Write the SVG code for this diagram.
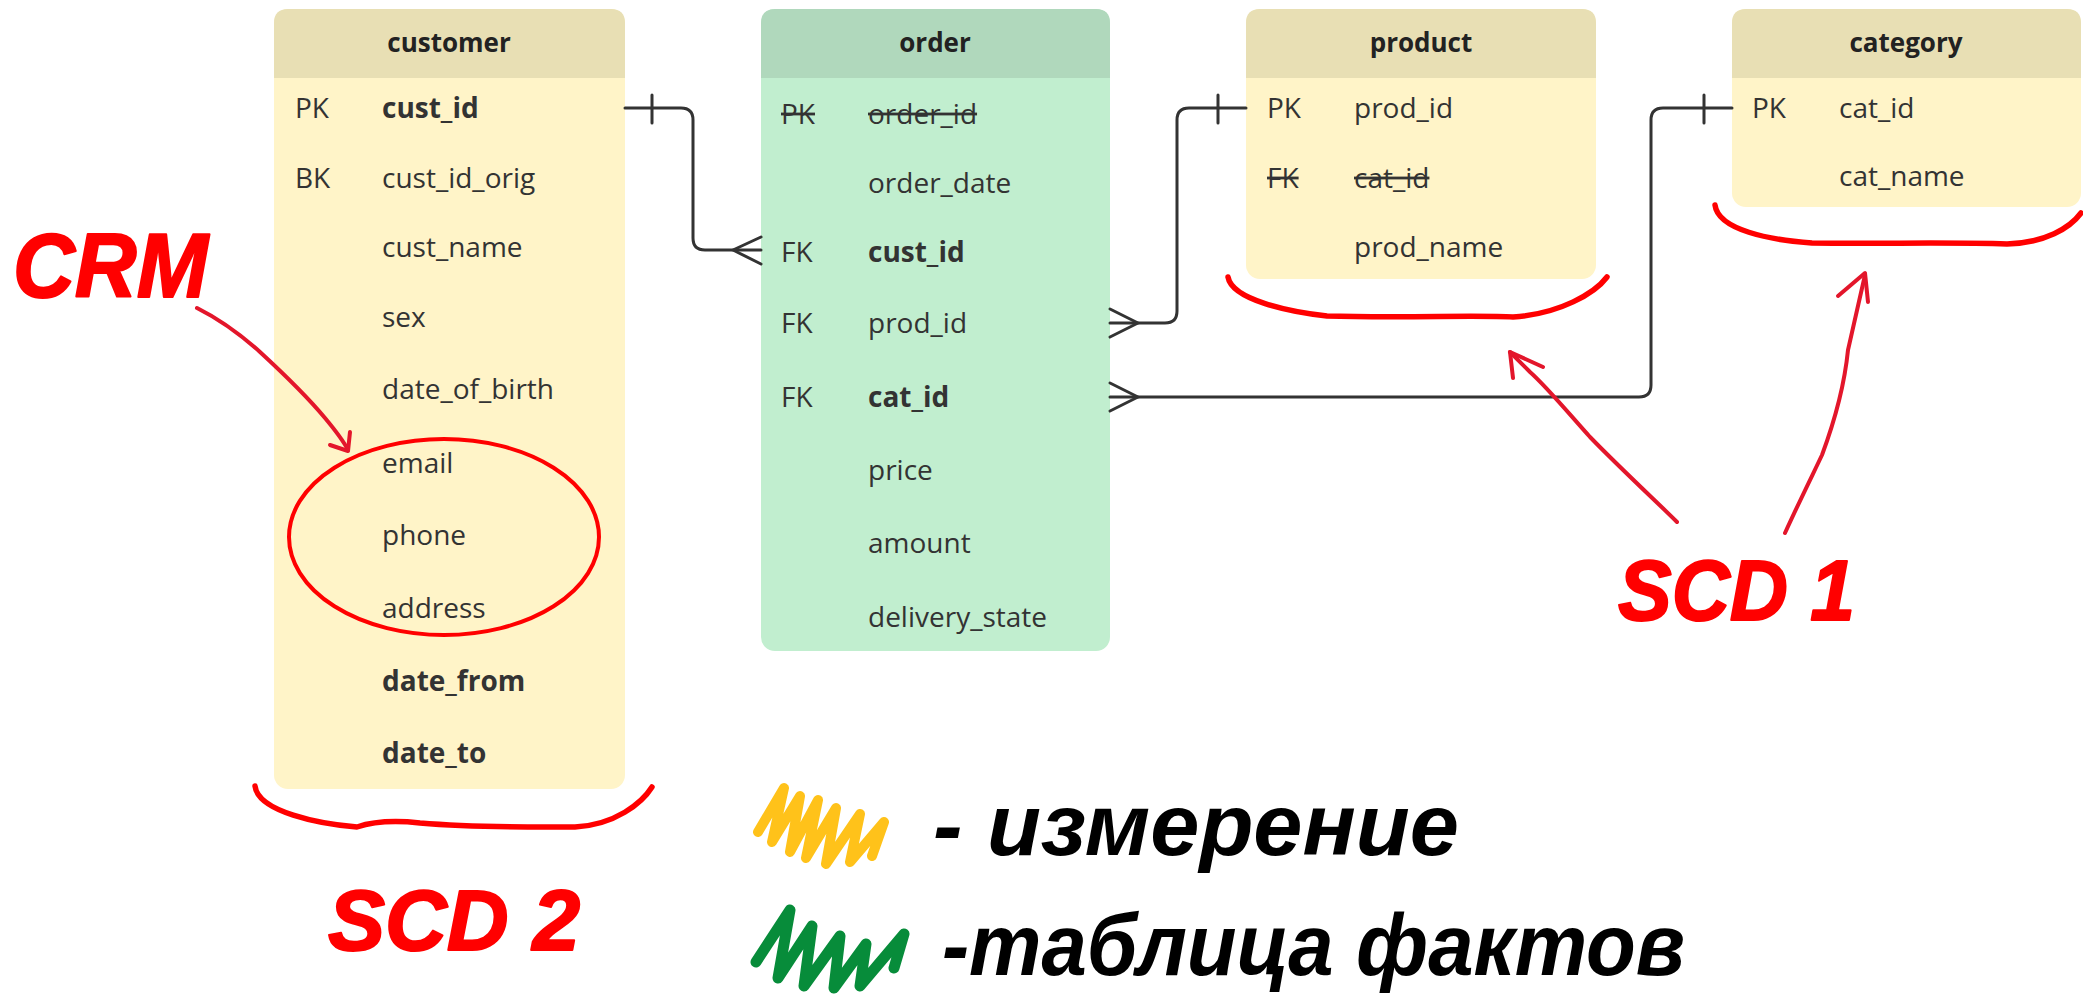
<svg xmlns="http://www.w3.org/2000/svg" width="2083" height="996" viewBox="0 0 2083 996">
  <style>
    .dimBody { fill: #FFF4C8; }
    .dimHead { fill: #E8DFB4; }
    .factBody { fill: #C1EECF; }
    .factHead { fill: #B0D8BC; }
    .t { font-family: "Open Sans", "Noto Sans", sans-serif; font-size: 28px; fill: #333333; }
    .b { font-weight: 700; }
    .s { text-decoration: line-through; }
    .h { font-family: "Open Sans", "Noto Sans", sans-serif; font-size: 26px; font-weight: 700; fill: #222222; text-anchor: middle; }
    .conn { fill: none; stroke: #333333; stroke-width: 3; stroke-linecap: round; stroke-linejoin: round; }
    .mark { fill: none; stroke: #FF0000; stroke-width: 5.5; stroke-linecap: round; stroke-linejoin: round; }
    .arr { fill: none; stroke: #E3162B; stroke-width: 4; stroke-linecap: round; stroke-linejoin: round; }
    .hand { font-family: "Liberation Sans", Arial, sans-serif; font-weight: 700; font-style: italic; }
    .red { fill: #FF0000; stroke: #FF0000; stroke-width: 2; stroke-linejoin: round; }
    .ink { fill: #000000; }
  </style>

  <rect width="2083" height="996" fill="#FFFFFF"/>

  <!-- customer (dimension) -->
  <g id="customer">
    <rect class="dimBody" x="274" y="9" width="351" height="780" rx="14"/>
    <path class="dimHead" d="M274,78 V23 Q274,9 288,9 H611 Q625,9 625,23 V78 Z"/>
    <text class="h" x="449" y="52">customer</text>
    <text class="t" x="295" y="118">PK</text>
    <text class="t b" x="382" y="118">cust_id</text>
    <text class="t" x="295" y="188">BK</text>
    <text class="t" x="382" y="188">cust_id_orig</text>
    <text class="t" x="382" y="257">cust_name</text>
    <text class="t" x="382" y="327">sex</text>
    <text class="t" x="382" y="399">date_of_birth</text>
    <text class="t" x="382" y="473">email</text>
    <text class="t" x="382" y="545">phone</text>
    <text class="t" x="382" y="618">address</text>
    <text class="t b" x="382" y="691">date_from</text>
    <text class="t b" x="382" y="763">date_to</text>
  </g>

  <!-- order (fact) -->
  <g id="order">
    <rect class="factBody" x="761" y="9" width="349" height="642" rx="14"/>
    <path class="factHead" d="M761,78 V23 Q761,9 775,9 H1096 Q1110,9 1110,23 V78 Z"/>
    <text class="h" x="935" y="52">order</text>
    <text class="t s" x="781" y="124">PK</text>
    <text class="t s" x="868" y="124">order_id</text>
    <text class="t" x="868" y="193">order_date</text>
    <text class="t" x="781" y="262">FK</text>
    <text class="t b" x="868" y="262">cust_id</text>
    <text class="t" x="781" y="333">FK</text>
    <text class="t" x="868" y="333">prod_id</text>
    <text class="t" x="781" y="407">FK</text>
    <text class="t b" x="868" y="407">cat_id</text>
    <text class="t" x="868" y="480">price</text>
    <text class="t" x="868" y="553">amount</text>
    <text class="t" x="868" y="627">delivery_state</text>
  </g>

  <!-- product (dimension) -->
  <g id="product">
    <rect class="dimBody" x="1246" y="9" width="350" height="270" rx="14"/>
    <path class="dimHead" d="M1246,78 V23 Q1246,9 1260,9 H1582 Q1596,9 1596,23 V78 Z"/>
    <text class="h" x="1421" y="52">product</text>
    <text class="t" x="1267" y="118">PK</text>
    <text class="t" x="1354" y="118">prod_id</text>
    <text class="t s" x="1267" y="188">FK</text>
    <text class="t s" x="1354" y="188">cat_id</text>
    <text class="t" x="1354" y="257">prod_name</text>
  </g>

  <!-- category (dimension) -->
  <g id="category">
    <rect class="dimBody" x="1732" y="9" width="349" height="198" rx="14"/>
    <path class="dimHead" d="M1732,78 V23 Q1732,9 1746,9 H2067 Q2081,9 2081,23 V78 Z"/>
    <text class="h" x="1906" y="52">category</text>
    <text class="t" x="1752" y="118">PK</text>
    <text class="t" x="1839" y="118">cat_id</text>
    <text class="t" x="1839" y="186">cat_name</text>
  </g>

  <!-- relationships: one (bar) to many (crow's foot) -->
  <g id="connectors">
    <path class="conn" d="M625,108 H681 Q693,108 693,120 V238 Q693,250 705,250 H761"/>
    <path class="conn" d="M652,95 V123"/>
    <path class="conn" d="M761,237 L733,250 L761,264"/>

    <path class="conn" d="M1246,108 H1189 Q1177,108 1177,120 V311 Q1177,323 1165,323 H1110"/>
    <path class="conn" d="M1218,95 V123"/>
    <path class="conn" d="M1110,309 L1138,323 L1110,337"/>

    <path class="conn" d="M1732,108 H1663 Q1651,108 1651,120 V385 Q1651,397 1639,397 H1110"/>
    <path class="conn" d="M1704,95 V123"/>
    <path class="conn" d="M1110,383 L1138,397 L1110,411"/>
  </g>

  <!-- hand-drawn annotations -->
  <g id="annotations">
    <text class="hand red" x="13" y="297" font-size="90" textLength="195" lengthAdjust="spacingAndGlyphs">CRM</text>
    <path class="arr" d="M197,308 C215,317 240,334 260,352 C285,375 310,400 325,418 C335,430 343,440 348,450"/>
    <path class="arr" d="M350,432 L348,451 L330,445"/>
    <ellipse cx="444" cy="537" rx="155" ry="98" fill="none" stroke="#FF0000" stroke-width="4"/>

    <path class="mark" d="M255,786 C258,812 320,824 357,827 C372,822 392,820 420,823 C480,828 540,827 575,827 C615,825 642,803 652,787"/>
    <text class="hand red" x="328" y="950" font-size="86" textLength="252" lengthAdjust="spacingAndGlyphs">SCD 2</text>

    <path class="mark" d="M1228,277 C1232,300 1290,312 1327,316 C1400,318 1480,315 1513,317 C1560,314 1595,293 1607,277"/>
    <path class="mark" d="M1715,205 C1718,230 1770,240 1812,243 C1880,244 1950,242 2007,244 C2045,243 2070,228 2081,213"/>

    <path class="arr" d="M1677,522 C1660,505 1620,468 1590,437 C1570,415 1547,387 1530,372 L1510,352"/>
    <path class="arr" d="M1513,378 L1510,352 L1543,367"/>
    <path class="arr" d="M1785,533 C1800,500 1815,470 1822,455 C1835,420 1845,380 1848,350 L1865,275"/>
    <path class="arr" d="M1838,296 L1865,273 L1868,302"/>
    <text class="hand red" x="1618" y="620" font-size="86" textLength="237" lengthAdjust="spacingAndGlyphs">SCD 1</text>
  </g>

  <!-- legend -->
  <g id="legend">
    <path d="M758,832 L784,788 L772,842 L800,796 L790,852 L818,800 L806,858 L836,808 L826,864 L860,814 L850,862 L884,822 L872,856" fill="none" stroke="#FFC21A" stroke-width="10" stroke-linecap="round" stroke-linejoin="round"/>
    <text class="hand ink" x="933" y="855" font-size="87" textLength="526" lengthAdjust="spacingAndGlyphs">- измерение</text>

    <path d="M756,962 L790,910 L778,978 L812,926 L804,986 L840,936 L834,988 L866,944 L860,986 L904,934 L894,968" fill="none" stroke="#078C3A" stroke-width="11" stroke-linecap="round" stroke-linejoin="round"/>
    <text class="hand ink" x="942" y="975" font-size="87" textLength="743" lengthAdjust="spacingAndGlyphs">-таблица фактов</text>
  </g>
</svg>
